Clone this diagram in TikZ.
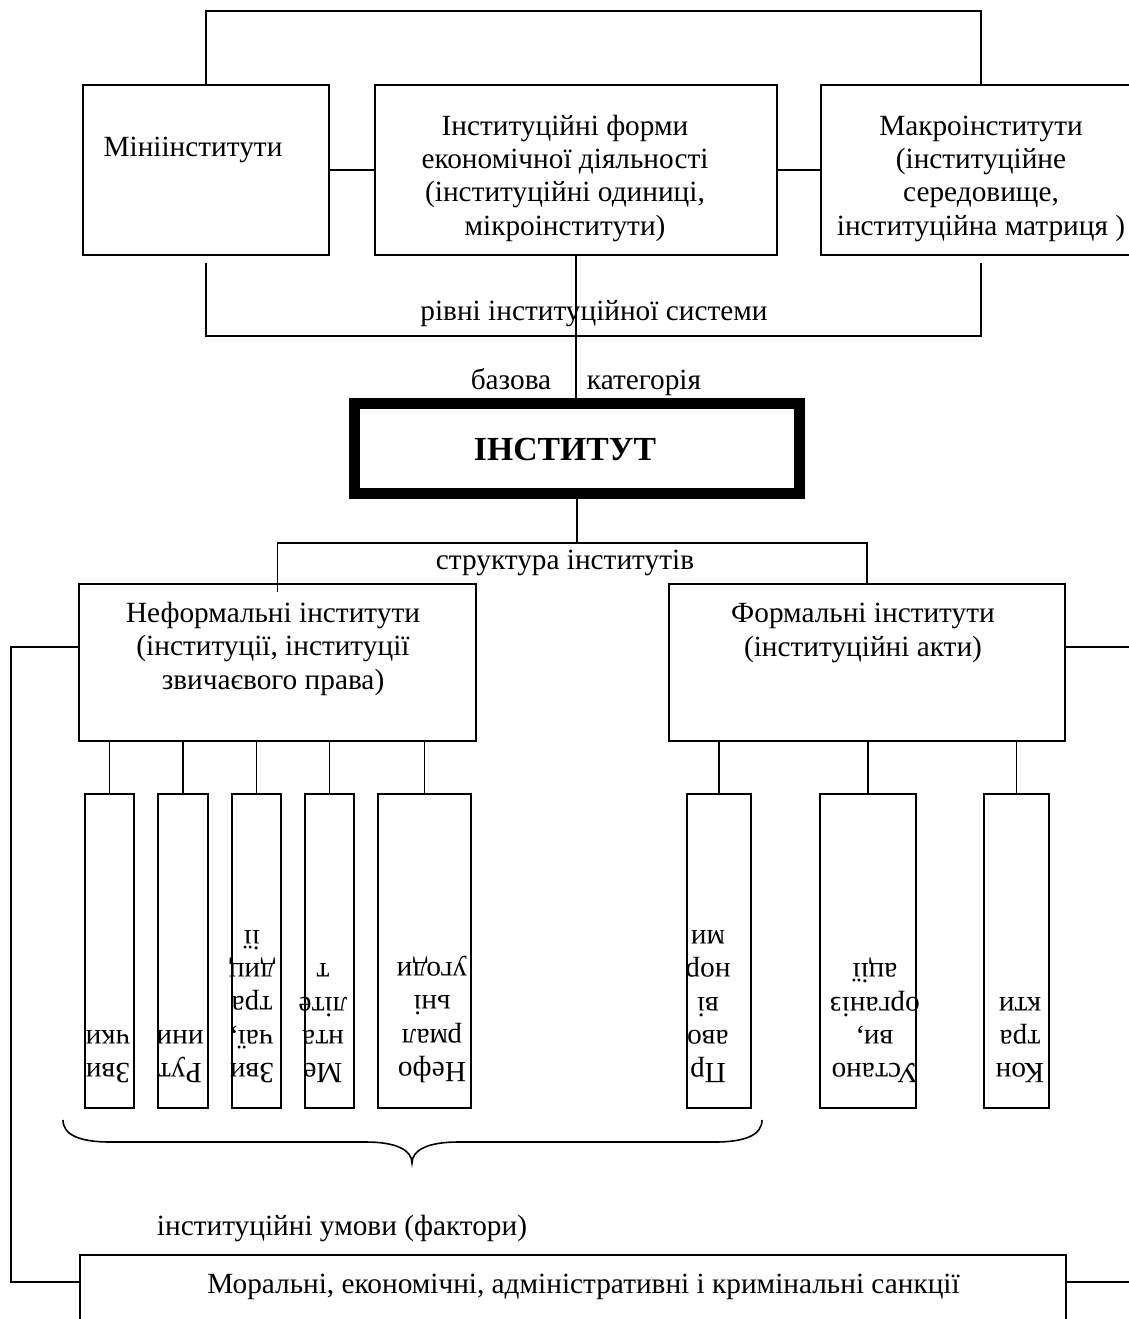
\documentclass[tikz,border=0pt]{standalone}
\usepackage{fontspec}
\setmainfont{Liberation Serif}
\usetikzlibrary{calc}
\begin{document}
\begin{tikzpicture}[x=1pt,y=-1pt,
  box/.style={draw,line width=1.6pt,inner sep=0pt},
  conn/.style={line width=1.6pt},
  txt/.style={font=\fontsize{29.3}{33.3}\selectfont,align=center,inner sep=0pt},
  vtxt/.style={txt,rotate=180,anchor=north}]
\useasboundingbox (0,0) rectangle (1128,1319);
% top level boxes
\node[box,minimum width=246pt,minimum height=170pt] (mini) at (206,170) {};
\node[box,minimum width=402pt,minimum height=170pt] (forms) at (576,170) {};
\node[box,minimum width=320pt,minimum height=170pt] (macro) at (981,170) {};
\node[txt,anchor=base] (minit) at (193,157) {Мініінститути};
\node[txt,anchor=base] (formst) at (565,235) {Інституційні форми\\економічної діяльності\\(інституційні одиниці,\\мікроінститути)};
\node[txt,anchor=base] (macrot) at (981,235) {Макроінститути\\(інституційне\\середовище,\\інституційна матриця )};
% central box
\node[draw,line width=11pt,inner sep=0pt,minimum width=445pt,minimum height=90pt] (inst) at (577,448) {};
\node[txt,font=\fontsize{33.7}{38}\selectfont\bfseries,anchor=base] (instt) at (565,460) {ІНСТИТУТ};
% second level
\node[box,minimum width=397pt,minimum height=157pt] (neform) at (277.5,662.5) {};
\node[box,minimum width=396pt,minimum height=157pt] (form) at (867,662.5) {};
\node[txt,anchor=base] (neformt) at (273,689) {Неформальні інститути\\(інституції, інституції\\звичаєвого права)};
\node[txt,anchor=base] (formt) at (863,656) {Формальні інститути\\(інституційні акти)};
% narrow boxes
\node[box,minimum width=49pt,minimum height=314pt] (n1) at (109.5,951) {};
\node[box,minimum width=50pt,minimum height=314pt] (n2) at (183,951) {};
\node[box,minimum width=49pt,minimum height=314pt] (n3) at (256.5,951) {};
\node[box,minimum width=49pt,minimum height=314pt] (n4) at (329.5,951) {};
\node[box,minimum width=93pt,minimum height=314pt] (n5) at (424.5,951) {};
\node[box,minimum width=64pt,minimum height=314pt] (f1) at (719,951) {};
\node[box,minimum width=96pt,minimum height=314pt] (f2) at (868,951) {};
\node[box,minimum width=65pt,minimum height=314pt] (f3) at (1016.5,951) {};
\node[vtxt] (n1t) at (108,1083) {Зви\\чки};
\node[vtxt] (n2t) at (180,1083) {Рут\\ини};
\node[vtxt] (n3t) at (252,1083) {Зви\\чаї,\\тра\\диц\\ії};
\node[vtxt] (n4t) at (323,1083) {Ме\\нта\\літе\\т};
\node[vtxt] (n5t) at (432,1083) {Нефо\\рмал\\ьні\\угоди};
\node[vtxt] (f1t) at (708,1083) {Пр\\аво\\ві\\нор\\ми};
\node[vtxt] (f2t) at (875,1083) {Устано\\ви,\\організ\\ації};
\node[vtxt] (f3t) at (1020,1083) {Кон\\тра\\кти};
% sanctions
\node[box,minimum width=986pt,minimum height=85pt] (sanc) at (573,1297.5) {};
\node[txt,anchor=base] (sanct) at (583.5,1293) {Моральні, економічні, адміністративні і кримінальні санкції};
% labels
\node[txt,anchor=base] (levels) at (594,320) {рівні інституційної системи};
\node[txt,anchor=base] (basis) at (511,389) {базова};
\node[txt,anchor=base] (categ) at (644,389) {категорія};
\node[txt,anchor=base] (struct) at (565,569) {структура інститутів};
\node[txt,anchor=base] (cond) at (342,1235) {інституційні умови (фактори)};
% connectors, top
\draw[conn] (mini.north) -- ++(0,-73) -| (macro.north);
\draw[conn] ($(mini.south)+(0,7)$) -- ++(0,73) -| ($(macro.south)+(0,7)$);
\draw[conn] (mini.east) -- (forms.west);
\draw[conn] (forms.east) -- (macro.west);
\draw[conn] (forms.south) -- (forms.south |- inst.north);
% structure
\coordinate (sj) at ($(inst.south)+(0,44.5)$);
\draw[conn] (inst.south) -- (sj);
\draw[conn] ($(neform.north)+(0,9)$) |- (sj) -| (form.north);
% children
\foreach \c in {n1,n2,n3,n4,n5} \draw[conn] (\c.north |- neform.south) -- (\c.north);
\foreach \c in {f1,f2,f3} \draw[conn] (\c.north |- form.south) -- (\c.north);
% side connectors
\draw[conn] ($(neform.north west)+(0,64)$) -- ++(-67,0) |- ($(sanc.north west)+(0,28)$);
\draw[conn] ($(form.north east)+(0,64)$) -- ++(70,0);
\draw[conn] ($(sanc.north east)+(0,28)$) -- ++(70,0);
% brace
\draw[conn] (63,1120) .. controls (63,1135) and (80,1142) .. (110,1142) -- (366,1142)
  .. controls (396,1142) and (412,1150) .. (412,1163)
  .. controls (412,1150) and (428,1142) .. (458,1142) -- (715,1142)
  .. controls (745,1142) and (762,1135) .. (762,1120);
\end{tikzpicture}
\end{document}
